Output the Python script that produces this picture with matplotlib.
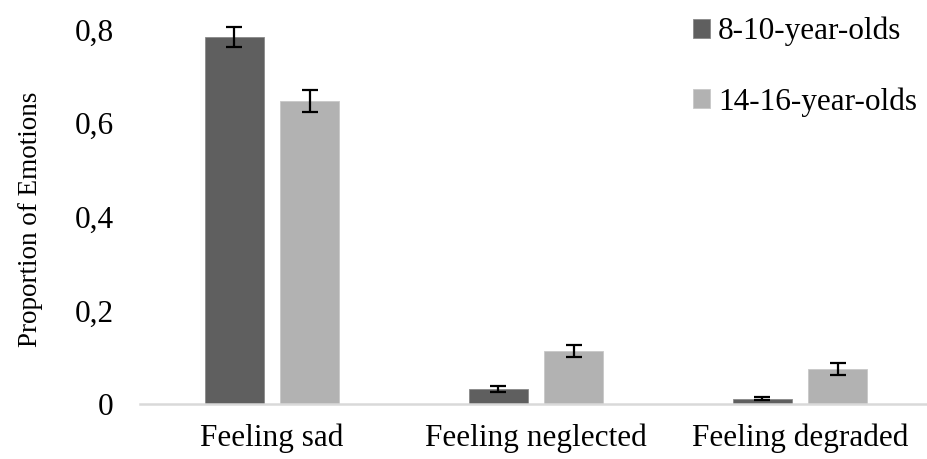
import matplotlib
matplotlib.use("Agg")
import matplotlib.pyplot as plt
import numpy as np

categories = ["Feeling sad", "Feeling neglected", "Feeling degraded"]
series_names = ["8-10-year-olds", "14-16-year-olds"]
young = [0.784, 0.032, 0.011]
young_err = [0.022, 0.006, 0.003]
old = [0.647, 0.113, 0.075]
old_err = [0.023, 0.013, 0.012]
yticks = [0, 0.2, 0.4, 0.6, 0.8]
ytick_labels = ["0", "0,2", "0,4", "0,6", "0,8"]

plt.rcParams['font.family'] = ['Liberation Serif', 'DejaVu Serif']
W, H = 928, 459
fig = plt.figure(figsize=(W / 100, H / 100), dpi=100)
ax = fig.add_axes([140 / W, 55 / H, 792 / W, 383.8 / H])

x = np.arange(len(categories))
off = 0.143
bw = 0.224
c1, c2 = "#5f5f5f", "#b2b2b2"
ax.bar(x - off, young, bw, color=c1, edgecolor="#8a8a8a", linewidth=0.6, label=series_names[0], zorder=2)
ax.bar(x + off, old, bw, color=c2, edgecolor="#c8c8c8", linewidth=0.6, label=series_names[1], zorder=2)
ax.errorbar(x - off, young, yerr=young_err, fmt="none", ecolor="black", elinewidth=1.6, capsize=6, capthick=1.6, zorder=3, clip_on=False)
ax.errorbar(x + off, old, yerr=old_err, fmt="none", ecolor="black", elinewidth=1.6, capsize=6, capthick=1.6, zorder=3, clip_on=False)

fs = 22.5
ax.set_xlim(-0.5, 2.5)
ax.set_ylim(0, 0.82)
ax.set_yticks(yticks)
ax.set_yticklabels(ytick_labels, fontsize=fs)
ax.set_xticks(x)
ax.set_xticklabels(categories, fontsize=fs)
ax.tick_params(axis="y", length=0, pad=19)
ax.tick_params(axis="x", length=0, pad=14)
for s in ["top", "right", "left"]:
    ax.spines[s].set_visible(False)
ax.spines["bottom"].set_color("#d9d9d9")
ax.spines["bottom"].set_linewidth(1.8)
ax.set_ylabel("Proportion of Emotions", fontsize=19.5)
ax.yaxis.set_label_coords((43 - 140) / 792, 0.48)

leg = ax.legend(loc="upper left", bbox_to_anchor=(693 / W, 1 - 17 / H), bbox_transform=fig.transFigure,
                frameon=False, fontsize=fs, handlelength=0.55, handleheight=0.55,
                handletextpad=0.25, labelspacing=1.3, borderaxespad=0, borderpad=0)

fig.savefig("out.png", dpi=100)
